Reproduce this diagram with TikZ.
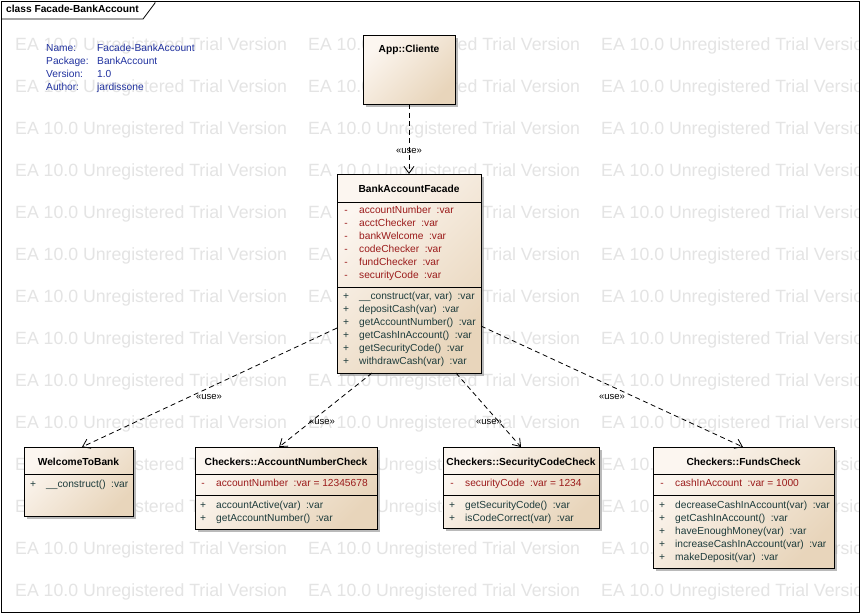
\documentclass[tikz,border=0pt]{standalone}
\usepackage{fontspec}
\setmainfont{Liberation Sans}
\usetikzlibrary{arrows.meta,shadows,calc}
\definecolor{attrc}{HTML}{9B1B1B}
\definecolor{opc}{HTML}{1E3C3C}
\definecolor{infoc}{HTML}{2233A0}
\definecolor{wmc}{HTML}{E4E4E4}
\definecolor{filla}{HTML}{FCF6F0}
\definecolor{fillb}{HTML}{E8D5BB}
\newcommand\crow[5]{%
  \node[vis,#1] at ($(#2,#3)+(9,0)$) {#4};
  \node[rowtxt,#1] at ($(#2,#3)+(22,0)$) {#5};}
\newcommand\sps{\hspace{5.5pt}}
\begin{document}
\begin{tikzpicture}[x=1pt,y=-1pt,
  txt/.style={font=\fontsize{10.2}{12}\selectfont, inner sep=0pt, text height=7pt, text depth=2pt},
  classbox/.style={draw=black, line width=0.8pt, top color=filla, bottom color=fillb, shading angle=45,
    drop shadow={shadow xshift=3pt,shadow yshift=-3pt,fill=black!45,opacity=0.6},
    anchor=north west, inner sep=0pt, outer sep=0pt},
  ctitle/.style={txt, font=\fontsize{10.2}{12}\selectfont\bfseries},
  vis/.style={txt, anchor=center},
  rowtxt/.style={txt, anchor=west},
  attr/.style={text=attrc},
  oper/.style={text=opc},
  sepline/.style={draw=black, line width=0.8pt},
  usedep/.style={draw=black, line width=0.8pt, dash pattern=on 5pt off 3.5pt,
    -{Straight Barb[length=7pt,width=10pt]}},
  uselbl/.style={font=\fontsize{9.5}{11}\selectfont, inner sep=0pt},
  info/.style={txt, anchor=west, text=infoc},
  wm/.style={font=\fontsize{17.7}{18}\selectfont, text=wmc, inner sep=0pt, anchor=west, text height=12.7pt, text depth=0pt}]
\useasboundingbox (0,0) rectangle (860,613);
\fill[white] (0,0) rectangle (860,613);
% watermark
\begin{scope}
\clip (1,1) rectangle (859,612);
\foreach \r in {0,...,13}{
  \foreach \c in {0,1,2}{
    \node[wm] (wm-\r-\c) at ({15+293*\c},{44+42*\r}) {EA 10.0 Unregistered Trial Version};
  }}
\end{scope}
% frame and title tab
\draw[line width=0.8pt] (1,1) rectangle (859,612);
\draw[line width=0.8pt] (1,19) -- (143,19) -- (155,3) -- (155,1);
\node[ctitle, anchor=west] (frametitle) at (6,10) {class Facade-BankAccount};
% info block
\node[info] (iname) at (46,49) {Name:};
\node[info] (ipkg) at (46,62) {Package:};
\node[info] (iver) at (46,75) {Version:};
\node[info] (iauth) at (46,88) {Author:};
\node[info] (vname) at (97,49) {Facade-BankAccount};
\node[info] (vpkg) at (97,62) {BankAccount};
\node[info] (vver) at (97,75) {1.0};
\node[info] (vauth) at (97,88) {jardissone};
% App::Cliente
\node[classbox, minimum width=92pt, minimum height=69pt] (cli) at (363,35) {};
\node[ctitle] (clit) at (409,50) {App::Cliente};
% BankAccountFacade
\node[classbox, minimum width=144pt, minimum height=199pt] (fac) at (337,174) {};
\node[ctitle] (fact) at (409,190) {BankAccountFacade};
\draw[sepline] (337,202) -- (481,202);
\draw[sepline] (337,287) -- (481,287);
\crow{attr}{337}{211}{-}{accountNumber\sps:var}
\crow{attr}{337}{224}{-}{acctChecker\sps:var}
\crow{attr}{337}{237}{-}{bankWelcome\sps:var}
\crow{attr}{337}{250}{-}{codeChecker\sps:var}
\crow{attr}{337}{263}{-}{fundChecker\sps:var}
\crow{attr}{337}{276}{-}{securityCode\sps:var}
\crow{oper}{337}{297}{+}{\_\_construct(var, var)\sps:var}
\crow{oper}{337}{310}{+}{depositCash(var)\sps:var}
\crow{oper}{337}{323}{+}{getAccountNumber()\sps:var}
\crow{oper}{337}{336}{+}{getCashInAccount()\sps:var}
\crow{oper}{337}{349}{+}{getSecurityCode()\sps:var}
\crow{oper}{337}{362}{+}{withdrawCash(var)\sps:var}
% WelcomeToBank
\node[classbox, minimum width=109pt, minimum height=69pt] (wel) at (24,447) {};
\node[ctitle] (welt) at (78.5,463) {WelcomeToBank};
\draw[sepline] (24,474) -- (133,474);
\crow{oper}{24}{485}{+}{\_\_construct()\sps:var}
% AccountNumberCheck
\node[classbox, minimum width=182pt, minimum height=82pt] (acc) at (195,447) {};
\node[ctitle] (acct) at (286,463) {Checkers::AccountNumberCheck};
\draw[sepline] (195,474) -- (377,474);
\draw[sepline] (195,495) -- (377,495);
\crow{attr}{194}{484}{-}{accountNumber\sps:var = 12345678}
\crow{oper}{194}{506}{+}{accountActive(var)\sps:var}
\crow{oper}{194}{519}{+}{getAccountNumber()\sps:var}
% SecurityCodeCheck
\node[classbox, minimum width=156pt, minimum height=81pt] (sec) at (443,447) {};
\node[ctitle] (sect) at (521,463) {Checkers::SecurityCodeCheck};
\draw[sepline] (443,474) -- (599,474);
\draw[sepline] (443,495) -- (599,495);
\crow{attr}{443}{484}{-}{securityCode\sps:var = 1234}
\crow{oper}{443}{506}{+}{getSecurityCode()\sps:var}
\crow{oper}{443}{519}{+}{isCodeCorrect(var)\sps:var}
% FundsCheck
\node[classbox, minimum width=181pt, minimum height=121pt] (fun) at (653,447) {};
\node[ctitle] (funt) at (743.5,463) {Checkers::FundsCheck};
\draw[sepline] (653,474) -- (834,474);
\draw[sepline] (653,495) -- (834,495);
\crow{attr}{653}{484}{-}{cashInAccount\sps:var = 1000}
\crow{oper}{653}{506}{+}{decreaseCashInAccount(var)\sps:var}
\crow{oper}{653}{519}{+}{getCashInAccount()\sps:var}
\crow{oper}{653}{532}{+}{haveEnoughMoney(var)\sps:var}
\crow{oper}{653}{545}{+}{increaseCashInAccount(var)\sps:var}
\crow{oper}{653}{558}{+}{makeDeposit(var)\sps:var}
% dependencies
\draw[usedep] (cli.south) -- (fac.north);
\node[uselbl] (l0) at (409,151) {«use»};
\draw[usedep] ($(fac.north west)!0.774!(fac.south west)$) -- ($(wel.north west)!0.532!(wel.north east)$);
\node[uselbl] (l1) at (209,397) {«use»};
\draw[usedep] ($(fac.south west)!0.243!(fac.south east)$) -- ($(acc.north west)!0.462!(acc.north east)$);
\node[uselbl] (l2) at (322,422) {«use»};
\draw[usedep] ($(fac.south west)!0.826!(fac.south east)$) -- ($(sec.north west)!0.5!(sec.north east)$);
\node[uselbl] (l3) at (489,422) {«use»};
\draw[usedep] ($(fac.north east)!0.764!(fac.south east)$) -- ($(fun.north west)!0.497!(fun.north east)$);
\node[uselbl] (l4) at (612,397) {«use»};
\end{tikzpicture}
\end{document}
